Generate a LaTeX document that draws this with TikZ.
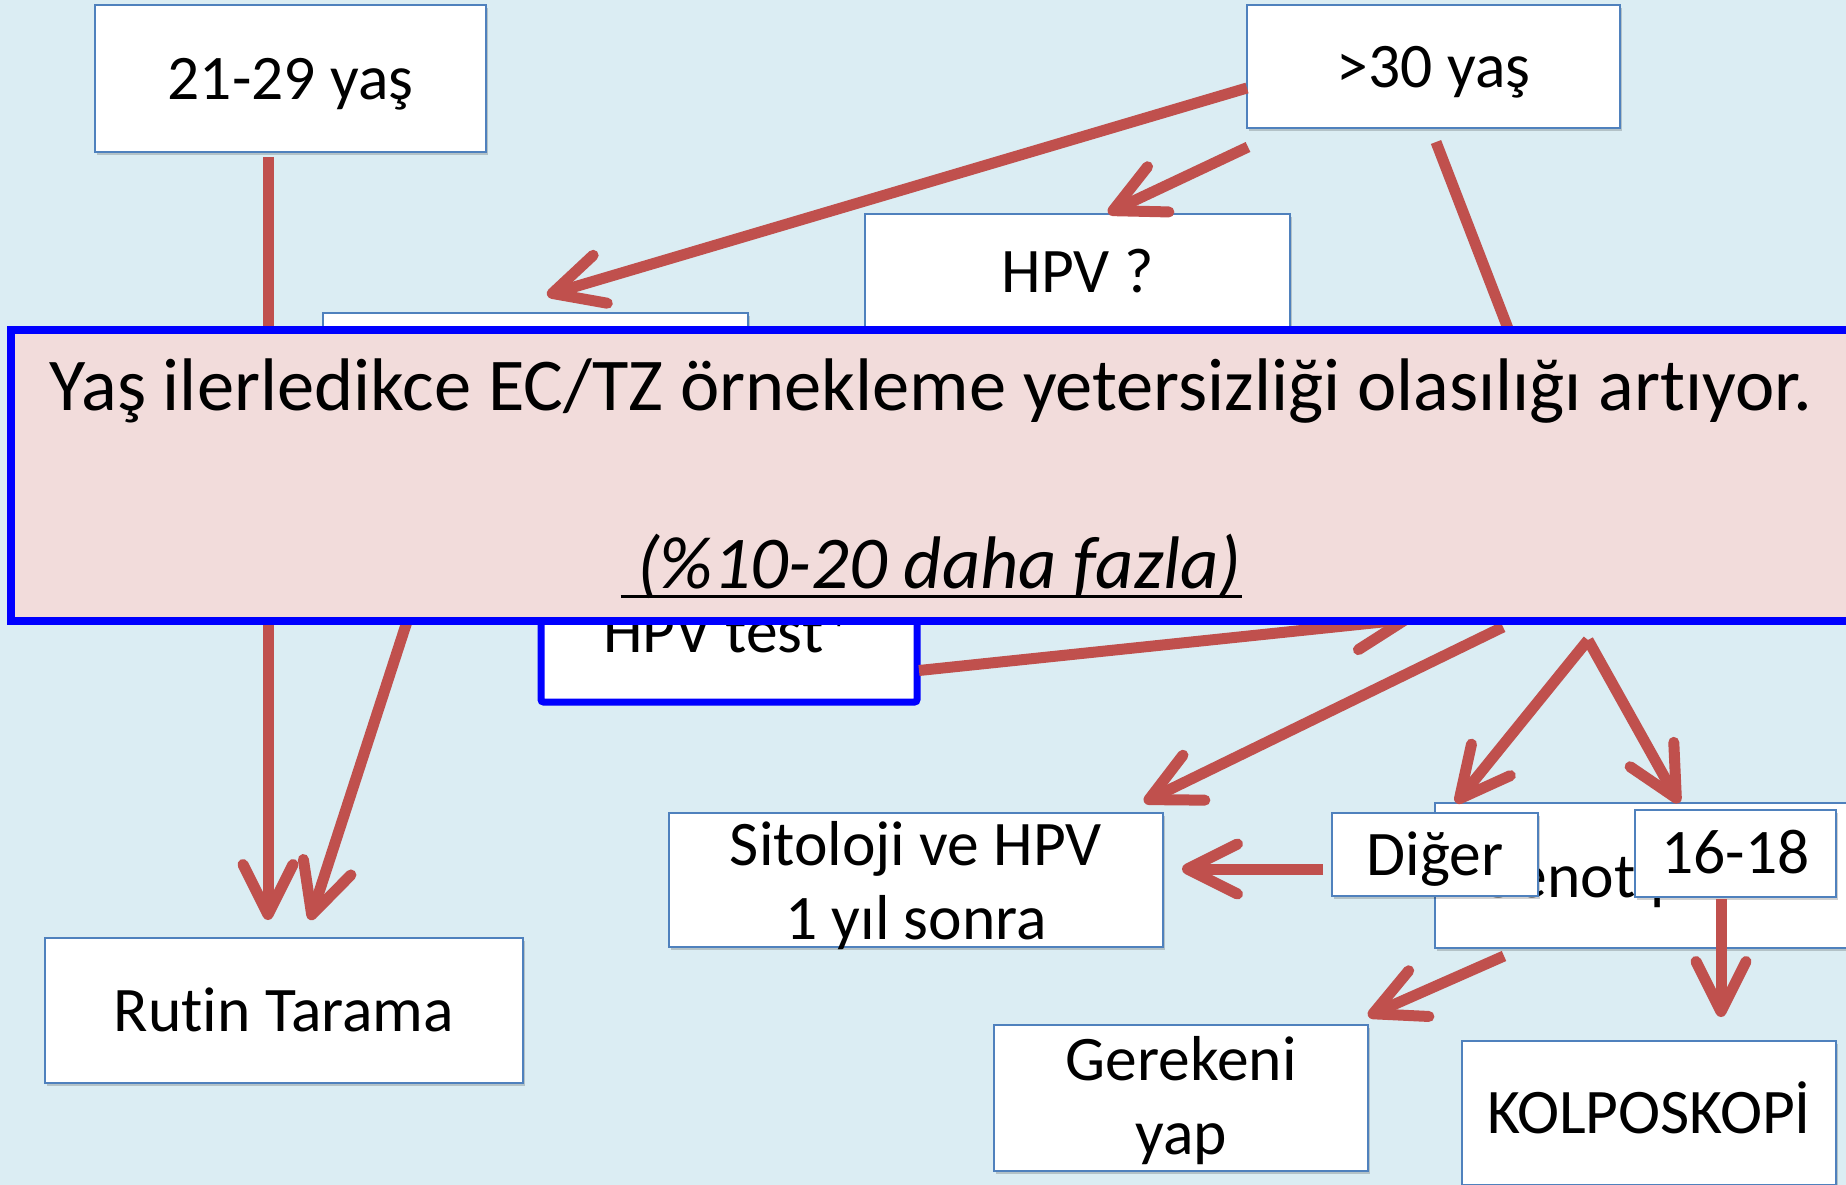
\documentclass[tikz,border=0pt]{standalone}
\usepackage{fontspec}
\setmainfont{Carlito}[Ligatures=NoCommon]
\usetikzlibrary{arrows.meta,calc,shadows}
\definecolor{bgblue}{RGB}{219,237,243}
\definecolor{boxblue}{RGB}{79,129,189}
\definecolor{arrred}{RGB}{192,80,77}
\definecolor{pinkfill}{RGB}{242,220,219}
\definecolor{pureblue}{RGB}{0,0,255}
\newcommand\myul[1]{\setbox0\hbox{#1}\rlap{\rule[-4pt]{\wd0}{1.2pt}}\box0}
\begin{document}
\begin{tikzpicture}[x=0.4pt,y=-0.4pt,
  box/.style={draw=boxblue, line width=0.8pt, fill=white, inner sep=0pt, outer sep=0pt,
     font=\fontsize{25.4pt}{29.6pt}\selectfont, align=center,
     drop shadow={shadow xshift=0.8pt, shadow yshift=-1.2pt, fill=black, opacity=0.18}},
  sz/.style n args={3}{minimum width=#1, minimum height=#2, text height=#3, text depth=0pt},
  thickbox/.style={draw=pureblue, line width=2.8pt, rounded corners=1pt},
  ovl/.style={draw=pureblue, line width=3.2pt, fill=pinkfill, inner sep=0pt, outer sep=0pt,
     font=\fontsize{29.8pt}{35.6pt}\selectfont, align=center,
     drop shadow={shadow xshift=0.8pt, shadow yshift=-1.2pt, fill=black, opacity=0.18}},
  arr/.style={draw=arrred, line width=4.4pt,
     -{Straight Barb[length=20pt,width=20pt,line cap=round,line join=round]}}
]
\fill[bgblue] (0,0) rectangle (1846,1185);
\useasboundingbox (0,0) rectangle (1846,1185);
\clip (0,0) rectangle (1846,1185);

% boxes
\node[box, sz={156.4pt}{58.8pt}{17.2pt}] (A) at (290.5,78.5) {21-29 yaş};
\node[box, sz={149.2pt}{49.2pt}{17.2pt}] (B) at (1433.5,66.5) {>30 yaş};
\node[box, sz={170pt}{46pt}{17.2pt}] (C) at (1077.5,271.5) {HPV ?};
\node[box, sz={170pt}{50.8pt}{0pt}] (D) at (535.5,376.5) {};
\node[box, thickbox, sz={150.4pt}{57.2pt}{17.2pt}] (E) at (729,630.5) {HPV test*};
\node[box, sz={184pt}{70pt}{0pt}] (F) at (1560,527.5) {};
\node[box, sz={197.6pt}{53.6pt}{47.2pt}] (G) at (916,880) {Sitoloji ve HPV\\1 yıl sonra};
\node[box, sz={167.2pt}{58pt}{17.2pt}] (H) at (1644,875.5) {Genotipleme};
\node[box, sz={82.4pt}{33.2pt}{16.4pt}] (I) at (1435,854.5) {Diğer};
\node[box, sz={80.4pt}{34.8pt}{15.6pt}] (J) at (1735.5,853.5) {16-18};
\node[box, sz={191.2pt}{58pt}{16.4pt}] (K) at (284,1010.5) {Rutin Tarama};
\node[box, sz={149.6pt}{58.4pt}{44.8pt}] (L) at (1181,1098) {Gerekeni\\yap};
\node[box, sz={149.6pt}{57.6pt}{16pt}] (M) at (1649,1113) {KOLPOSKOPİ};

% connectors
\draw[arr] ($(A.south)+(-22.5,5)$) -- ($(K.north)+(-16,-18)$);
\draw[arr] ($(D.south)+(-69.5,0)$) -- ($(K.north)+(26,-18)$);
\draw[arr] ($(B.west)+(0,21.5)$) -- ($(D.north)+(11.5,-18)$);
\draw[arr] ($(B.south west)+(1,19)$) -- ($(C.north)+(30.5,-1)$);
\draw[arr] ($(B.south)+(2.5,14)$) -- ($(F.north)+(-9,0)$);
\draw[arr] ($(E.east)+(2,40)$) -- ($(F.south)+(-149,4)$);
\draw[arr] ($(F.south)+(-57,12)$) -- ($(G.north)+(228,-11)$);
\coordinate (apex) at ($(F.south)+(28,25)$);
\draw[arr] (apex) -- ($(I.north)+(21,-10)$);
\draw[arr] (apex) -- ($(J.north)+(-56.5,-7)$);
\draw[arr] ($(I.west)+(-9,14.5)$) -- ($(G.east)+(19,-11)$);
\draw[arr] ($(J.south)+(-14.5,2)$) -- ($(M.north)+(72,-24)$);
\draw[arr] ($(H.south)+(-140,8)$) -- ($(L.north)+(187,-9)$);

% overlay
\node[ovl, minimum width=736pt, minimum height=116.4pt, text height=90pt, text depth=0pt] (O) at (931,475.5)
  {Yaş ilerledikce EC/TZ örnekleme yetersizliği olasılığı artıyor.\\[35.6pt]\myul{\ \textit{(\%10-20 daha fazla)}}};
\end{tikzpicture}
\end{document}
